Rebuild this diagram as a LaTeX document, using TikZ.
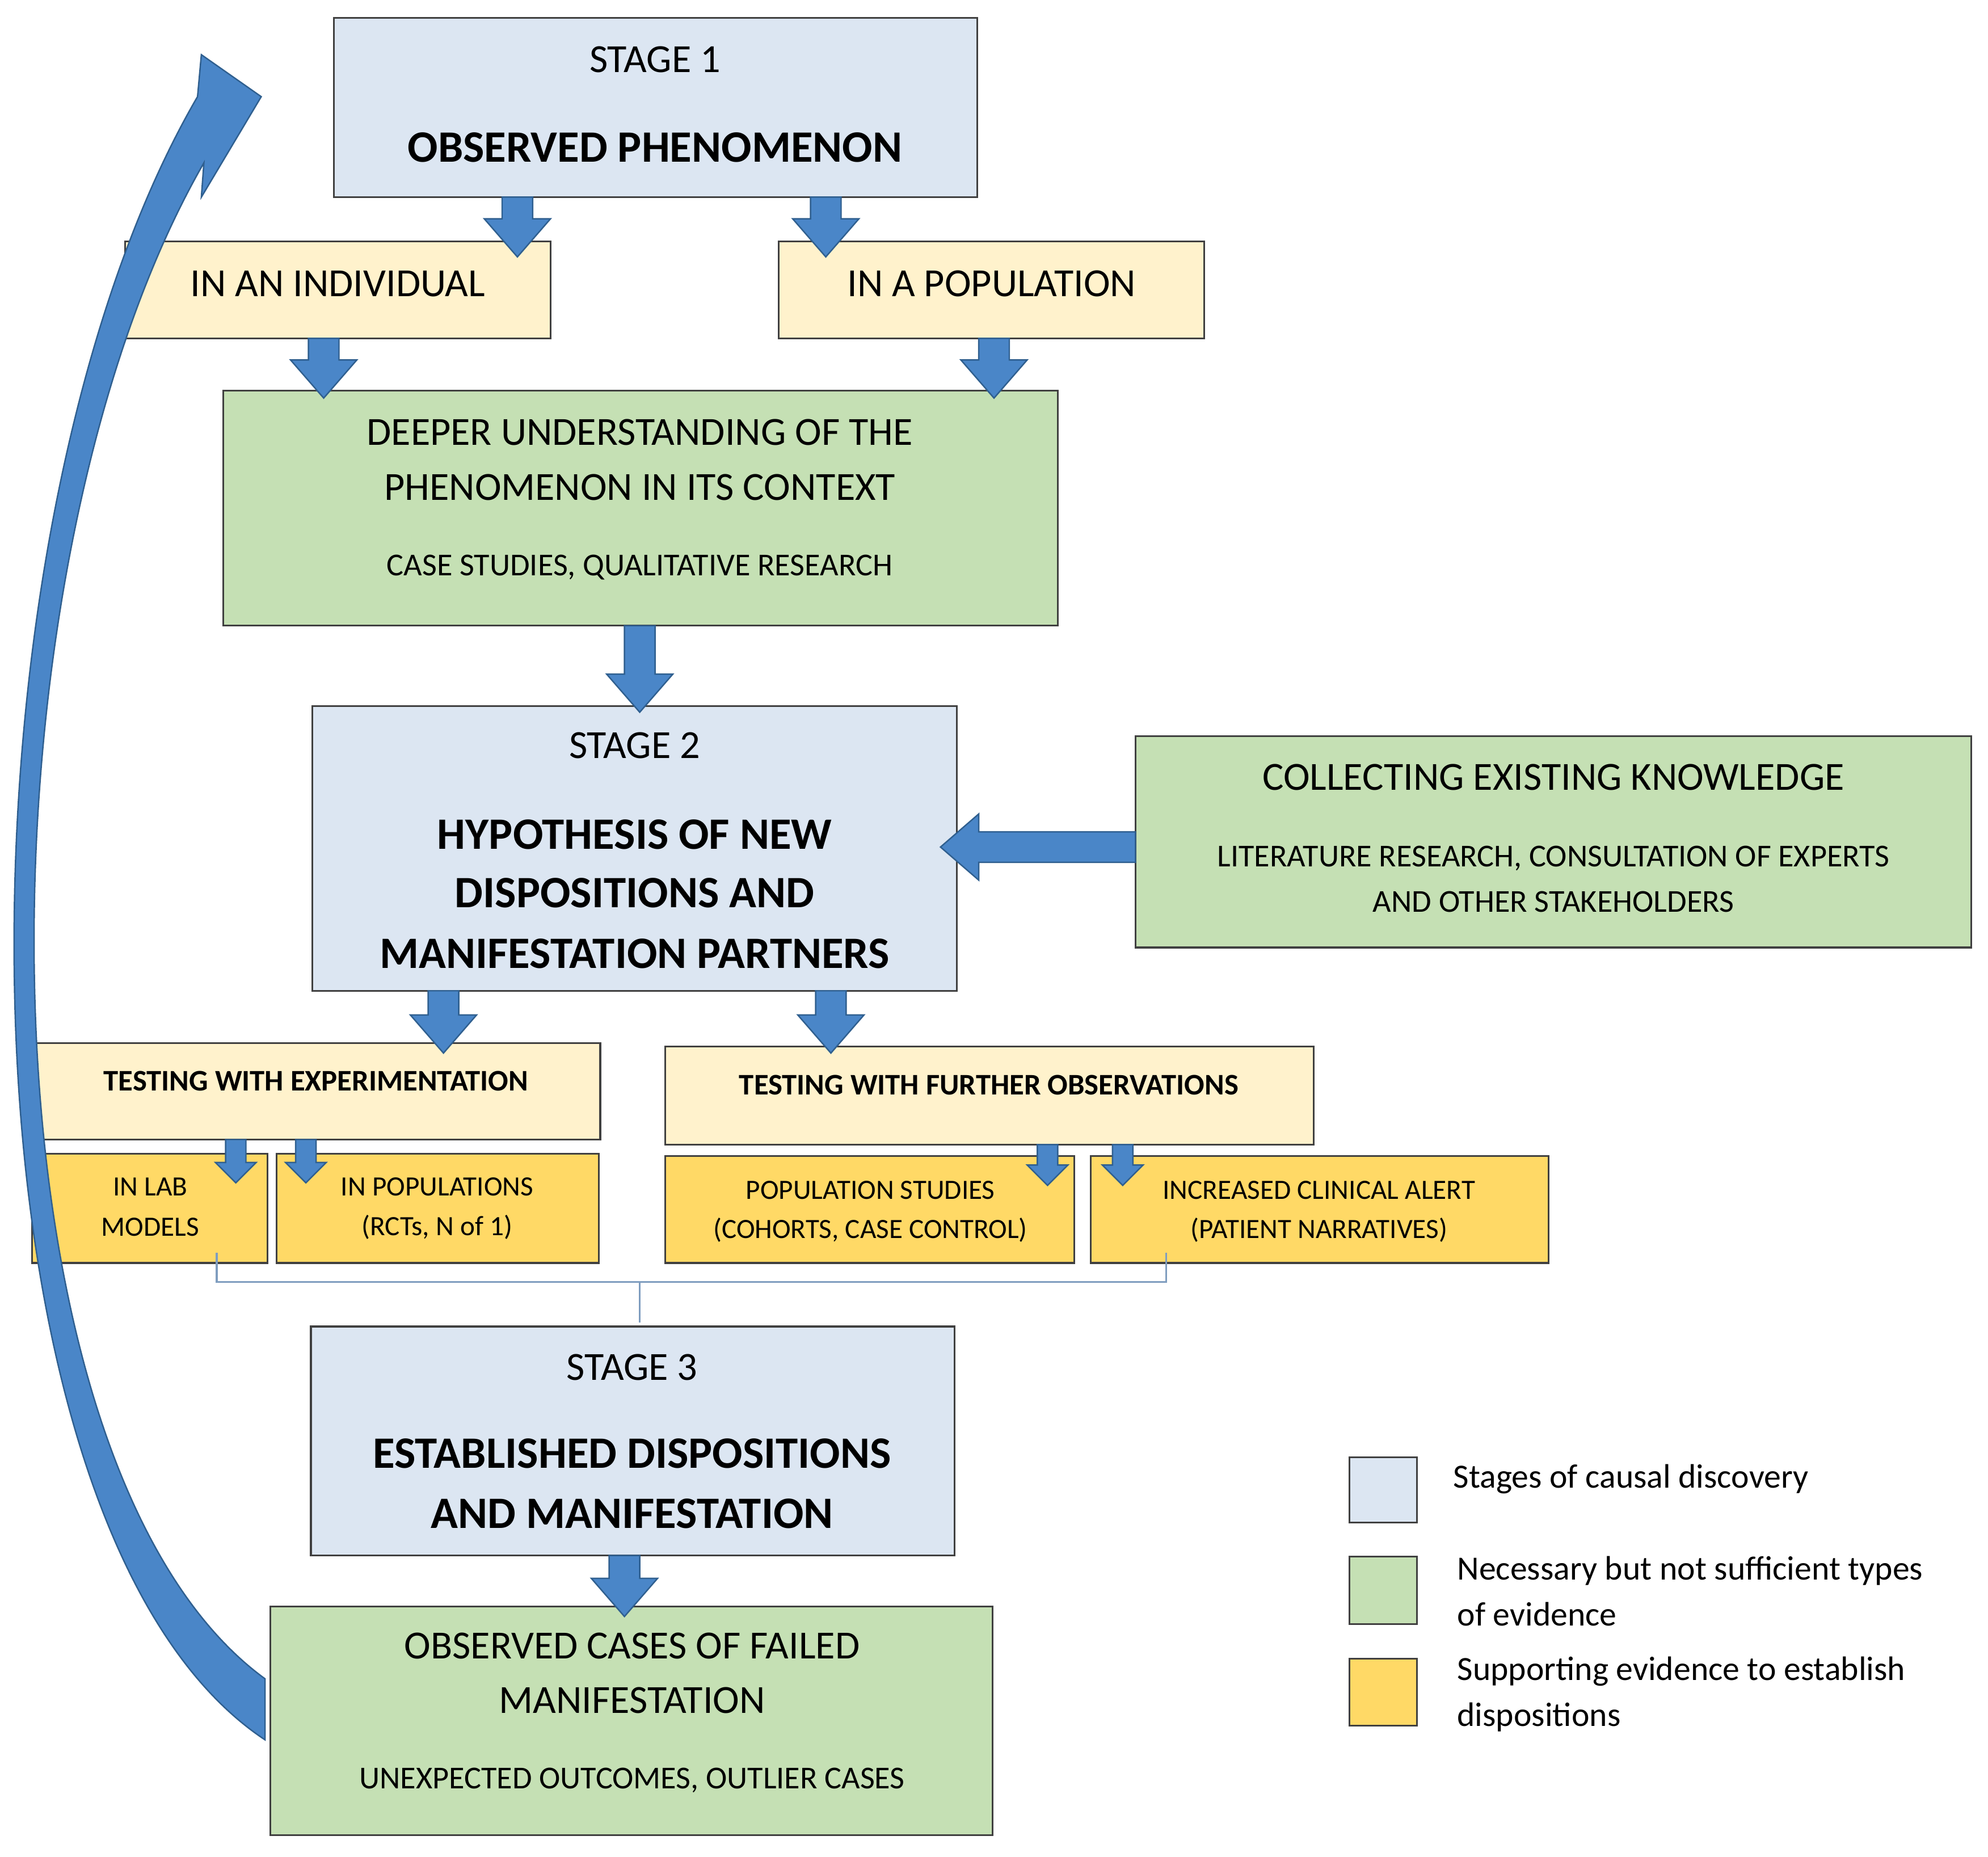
\documentclass[tikz,border=0pt]{standalone}
\usepackage{fontspec}
\setmainfont{Carlito}
\definecolor{sblue}{HTML}{DCE6F2}
\definecolor{lyel}{HTML}{FFF2CC}
\definecolor{sgreen}{HTML}{C5E0B4}
\definecolor{syel}{HTML}{FFD966}
\definecolor{abl}{HTML}{4A86C8}
\definecolor{abd}{HTML}{2F5F8F}
\definecolor{brk}{HTML}{7F9DBF}
\newcommand\bigdn[3]{\draw[barrow] (#1-12,#2) -- (#1-12,#3-30) -- (#1-26,#3-30) -- (#1,#3) -- (#1+26,#3-30) -- (#1+12,#3-30) -- (#1+12,#2) -- cycle;}
\newcommand\smdn[3]{\draw[barrow] (#1-8,#2) -- (#1-8,#3-16) -- (#1-16,#3-16) -- (#1,#3) -- (#1+16,#3-16) -- (#1+8,#3-16) -- (#1+8,#2) -- cycle;}
\begin{document}
\begin{tikzpicture}[x=0.02246cm,y=-0.02241cm,
  box/.style={draw=black!75,line width=0.9pt},
  barrow/.style={fill=abl,draw=abd,line width=0.7pt,line join=miter},
  t/.style={font=\fontsize{20}{24}\selectfont,anchor=center},
  tb/.style={font=\fontsize{22.5}{26}\selectfont\bfseries,anchor=center},
  ts/.style={font=\fontsize{16}{19}\selectfont,anchor=center},
  tx/.style={font=\fontsize{14}{17}\selectfont,anchor=center},
  txb/.style={font=\fontsize{15}{18}\selectfont\bfseries,anchor=center},
  tl/.style={font=\fontsize{17}{20}\selectfont,anchor=west}]
\useasboundingbox[fill=white] (0,0) rectangle (1560,1460);
% boxes
\draw[box,fill=sblue] (262,14) rectangle (767,155);
\node[t] (s1a) at (514,47) {STAGE 1};
\node[tb] (s1b) at (514,116) {OBSERVED PHENOMENON};
\draw[box,fill=lyel] (98,190) rectangle (432,266);
\node[t] (ind) at (265,223) {IN AN INDIVIDUAL};
\draw[box,fill=lyel] (611,190) rectangle (945,266);
\node[t] (pop) at (778,223) {IN A POPULATION};
\draw[box,fill=sgreen] (175,307) rectangle (830,492);
\node[t] (d1) at (502,340) {DEEPER UNDERSTANDING OF THE};
\node[t] (d2) at (502,383) {PHENOMENON IN ITS CONTEXT};
\node[ts] (d3) at (502,446) {CASE STUDIES, QUALITATIVE RESEARCH};
\draw[box,fill=sblue] (245,555) rectangle (751,779);
\node[t] (s2a) at (498,586) {STAGE 2};
\node[tb] (s2b) at (498,656) {HYPOTHESIS OF NEW};
\node[tb] (s2c) at (498,702) {DISPOSITIONS AND};
\node[tb] (s2d) at (498,750) {MANIFESTATION PARTNERS};
\draw[box,fill=sgreen] (891,579) rectangle (1547,745);
\node[t] (c1) at (1219,611) {COLLECTING EXISTING KNOWLEDGE};
\node[ts] (c2) at (1219,675) {LITERATURE RESEARCH, CONSULTATION OF EXPERTS};
\node[ts] (c3) at (1219,709) {AND OTHER STAKEHOLDERS};
\draw[box,fill=lyel] (25,820) rectangle (471,896);
\node[txb] (te) at (248,850) {TESTING WITH EXPERIMENTATION};
\draw[box,fill=lyel] (522,823) rectangle (1031,900);
\node[txb] (tf) at (776,853) {TESTING WITH FURTHER OBSERVATIONS};
\draw[box,fill=syel] (25,907) rectangle (210,993);
\node[tx] (lab1) at (118,933) {IN LAB};
\node[tx] (lab2) at (118,965) {MODELS};
\draw[box,fill=syel] (217,907) rectangle (470,993);
\node[tx] (p1) at (343,933) {IN POPULATIONS};
\node[tx] (p2) at (343,965) {(RCTs, N of 1)};
\draw[box,fill=syel] (522,909) rectangle (843,993);
\node[tx] (ps1) at (683,936) {POPULATION STUDIES};
\node[tx] (ps2) at (683,967) {(COHORTS, CASE CONTROL)};
\draw[box,fill=syel] (856,909) rectangle (1215,993);
\node[tx] (ic1) at (1035,936) {INCREASED CLINICAL ALERT};
\node[tx] (ic2) at (1035,967) {(PATIENT NARRATIVES)};
% bracket
\draw[brk,line width=1pt] (170,985) -- (170,1008) -- (915,1008) -- (915,985);
\draw[brk,line width=1pt] (502,1008) -- (502,1040);
\draw[box,fill=sblue] (244,1043) rectangle (749,1223);
\node[t] (s3a) at (496,1075) {STAGE 3};
\node[tb] (s3b) at (496,1143) {ESTABLISHED DISPOSITIONS};
\node[tb] (s3c) at (496,1190) {AND MANIFESTATION};
\draw[box,fill=sgreen] (212,1263) rectangle (779,1443);
\node[t] (o1) at (496,1294) {OBSERVED CASES OF FAILED};
\node[t] (o2) at (496,1337) {MANIFESTATION};
\node[ts] (o3) at (496,1400) {UNEXPECTED OUTCOMES, OUTLIER CASES};
% legend
\draw[box,fill=sblue] (1059,1146) rectangle (1112,1197);
\draw[box,fill=sgreen] (1059,1224) rectangle (1112,1277);
\draw[box,fill=syel] (1059,1304) rectangle (1112,1357);
\node[tl] (l1) at (1135,1163) {Stages of causal discovery};
\node[tl] (l2) at (1138,1235) {Necessary but not sufficient types};
\node[tl] (l3) at (1138,1269) {of evidence};
\node[tl] (l4) at (1138,1314) {Supporting evidence to establish};
\node[tl] (l5) at (1138,1350) {dispositions};
% block arrows
\bigdn{406}{155}{202}
\bigdn{648}{155}{202}
\bigdn{254}{266}{313}
\bigdn{780}{266}{313}
\bigdn{502}{492}{560}
\bigdn{348}{779}{828}
\bigdn{652}{779}{828}
\bigdn{490}{1223}{1271}
\smdn{185}{896}{930}
\smdn{240}{896}{930}
\smdn{822}{900}{932}
\smdn{881}{900}{932}
\draw[barrow] (891,654) -- (768,654) -- (768,640) -- (738,666) -- (768,692) -- (768,678) -- (891,678) -- cycle;
% big curved return arrow
\draw[barrow] (208,1320) .. controls (-25,1150) and (-25,450) .. (160,128)
  -- (158,155) -- (205,76) -- (158,43) -- (155,76)
  .. controls (-45,420) and (-45,1200) .. (208,1368) -- cycle;
\end{tikzpicture}
\end{document}
